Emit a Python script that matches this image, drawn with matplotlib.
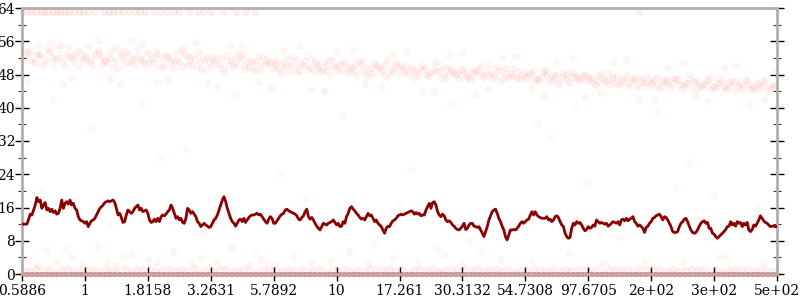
import numpy as np
import matplotlib
matplotlib.use('Agg')
import matplotlib.pyplot as plt
from matplotlib.ticker import MultipleLocator

# ---- data ----
tick_labels = ['0.5886', '1', '1.8158', '3.2631', '5.7892', '10', '17.261',
               '30.3132', '54.7308', '97.6705', '2e+02', '3e+02', '5e+02']
y_ticks = [0, 8, 16, 24, 32, 40, 48, 56, 64]

line_y = [
    12.0,12.0,12.0,12.0,13.2,14.4,14.2,15.4,16.6,18.4,17.4,17.8,15.8,16.6,17.2,15.4,15.8,15.0,15.6,14.8,
    15.2,14.4,14.6,15.8,17.8,15.8,17.0,17.4,16.8,17.8,16.6,17.0,15.8,15.4,13.8,13.0,12.8,12.6,12.2,12.6,
    11.4,12.2,12.8,13.0,13.4,14.2,15.0,15.8,16.2,16.6,17.2,17.4,17.6,17.4,17.6,17.8,17.2,15.8,14.2,14.6,
    13.6,12.4,12.6,14.2,15.4,15.0,14.6,15.0,15.8,16.2,16.6,15.4,15.8,15.0,15.2,15.4,
    14.6,13.0,12.4,12.6,13.2,12.6,13.4,12.6,13.8,14.2,14.0,14.4,15.0,15.4,16.6,15.8,14.6,13.4,13.8,13.0,
    13.4,12.4,12.2,13.4,15.8,15.4,14.6,15.0,14.4,13.8,12.6,12.2,11.4,11.8,12.2,11.8,11.5,11.2,11.4,12.2,
    13.0,13.4,14.2,15.4,16.6,17.8,18.6,17.4,15.8,14.6,13.4,12.6,12.2,11.5,12.2,13.0,13.2,12.6,13.4,12.4,
    13.0,13.6,14.0,14.2,14.2,14.4,14.6,14.2,14.4,13.8,13.2,12.6,12.2,13.2,13.8,13.4,12.2,
    12.2,12.8,13.4,14.0,14.4,14.6,15.4,15.6,15.2,15.0,14.8,14.6,14.4,14.0,13.2,13.0,13.6,14.0,15.0,15.6,
    13.8,13.2,13.6,13.0,12.2,11.5,11.0,10.6,11.4,12.2,12.0,11.8,12.2,12.4,12.6,13.0,12.4,11.8,12.2,11.4,
    11.5,12.6,12.2,13.8,14.6,15.8,16.2,15.6,15.2,14.6,14.2,13.6,13.2,13.4,13.0,13.8,14.6,14.0,14.2,13.4,
    12.6,13.0,12.2,11.8,11.4,10.6,9.8,11.0,11.5,11.4,12.2,12.8,13.0,13.4,14.0,14.2,14.4,
    14.2,14.4,14.6,14.8,15.0,15.2,15.0,14.4,14.8,14.4,14.6,14.0,14.2,14.2,15.4,16.2,17.0,15.8,17.2,17.4,
    16.6,15.0,14.2,13.8,14.4,14.0,13.0,12.6,12.8,12.4,11.8,11.5,11.0,10.7,10.6,11.0,11.5,12.2,10.7,11.0,
    11.8,12.2,12.2,11.5,11.4,11.2,11.4,10.6,9.8,9.0,10.2,11.4,13.0,14.0,15.0,15.4,15.6,14.6,13.4,12.6,
    11.5,10.6,9.0,8.2,9.4,10.6,10.6,10.7,10.6,11.0,11.5,12.2,12.6,12.2,12.6,13.0,13.2,
    14.2,15.0,14.2,15.0,14.2,13.8,13.6,13.4,13.4,13.4,13.8,13.0,13.2,12.6,13.0,13.8,14.0,13.6,12.6,11.8,
    11.4,9.8,9.0,8.6,8.8,11.0,12.2,11.8,12.6,12.2,12.4,11.8,11.0,10.4,10.7,11.4,11.0,11.2,11.8,11.5,
    13.0,12.6,12.2,12.4,12.2,12.0,12.2,11.5,11.8,12.2,12.6,12.4,12.2,12.6,11.8,13.0,13.2,12.8,13.4,12.8,
    13.2,13.4,13.8,12.6,12.2,11.5,11.8,11.4,11.0,10.0,11.2,11.5,12.2,12.6,13.4,13.6,14.0,
    14.2,14.4,13.8,13.0,13.8,13.6,13.0,12.2,11.4,10.2,10.0,10.0,10.2,11.4,12.2,12.6,13.2,13.4,12.6,11.5,
    10.6,10.0,9.8,10.0,10.6,11.5,12.2,12.6,12.8,12.2,12.4,11.0,11.0,9.8,9.6,9.0,8.6,9.0,9.4,9.8,
    10.2,10.7,11.4,11.5,12.6,11.8,12.2,11.5,12.6,12.2,12.4,11.4,12.2,11.8,12.4,10.6,10.2,10.7,11.8,11.5,
    12.2,13.0,14.0,13.4,12.8,12.4,12.2,11.8,11.4,11.5,11.5,11.4,11.4,
]

band_a = [
    52.1,53.4,51.0,52.8,54.2,50.6,52.3,53.0,51.7,49.8,
    52.6,51.2,53.8,50.9,52.0,54.5,51.4,52.9,50.3,51.8,
    53.1,50.7,51.9,52.4,49.6,51.0,52.7,50.2,53.5,51.5,
    50.1,52.2,49.4,51.6,50.8,53.0,49.9,51.2,48.7,50.5,
    51.3,49.2,50.6,52.1,48.8,50.0,51.7,49.5,50.9,47.9,
    49.8,51.2,48.4,50.3,49.1,47.6,50.8,49.4,51.6,48.9,
    48.2,50.1,49.3,47.5,49.8,48.6,51.0,47.9,49.0,48.4,
    49.2,47.1,48.6,50.0,47.8,48.3,46.5,49.5,47.7,48.9,
    46.9,48.4,47.2,49.1,46.3,47.8,48.7,45.9,47.5,48.2,
    47.6,45.8,48.3,46.7,47.2,45.4,48.0,46.4,47.3,46.0,
    45.9,47.5,46.2,44.8,46.9,45.6,47.8,46.1,44.9,46.6,
    45.2,46.8,44.6,46.1,45.5,47.0,44.3,45.8,46.4,44.9,
]
band_b = [
    53.6,51.5,52.4,50.8,53.9,52.0,51.1,54.8,52.6,51.3,
    50.8,53.2,52.3,51.0,49.9,52.8,53.7,51.5,52.2,50.6,
    51.8,52.9,50.4,51.4,53.2,50.0,52.1,51.7,49.3,52.5,
    51.4,49.6,52.6,50.3,51.9,49.0,50.7,52.4,50.2,51.1,
    49.6,50.8,48.9,51.5,50.2,49.4,51.1,48.5,50.4,49.7,
    50.5,48.7,49.9,51.0,48.2,49.6,50.2,48.0,49.3,50.7,
    49.5,47.8,48.8,50.4,48.1,49.2,47.4,49.9,48.5,47.0,
    47.9,48.8,49.4,47.3,48.1,49.7,47.0,48.4,46.8,48.0,
    48.3,46.6,47.5,48.9,47.0,46.1,48.1,47.4,46.5,47.9,
    46.3,47.9,46.9,45.6,47.7,46.2,45.1,47.0,46.6,45.3,
    46.8,45.1,46.4,47.2,45.4,46.0,44.7,46.3,45.7,44.4,
    46.0,44.7,45.3,46.5,44.2,45.6,44.8,46.2,43.9,45.1,
]
band_c = [
    51.2,54.0,52.9,50.1,53.3,51.8,55.1,52.2,50.9,53.7,
    52.4,50.0,53.1,51.6,54.2,49.5,52.5,51.1,53.9,50.7,
    50.9,53.6,49.8,52.3,51.2,54.0,50.4,52.8,51.0,49.2,
    52.0,50.5,48.6,51.8,53.1,50.0,51.5,49.3,52.3,50.9,
    50.2,48.3,51.9,49.8,50.6,52.4,48.9,50.1,49.0,51.4,
    48.9,50.6,49.3,47.9,51.4,48.6,50.0,49.1,47.4,50.4,
    50.0,48.5,47.2,49.6,48.0,50.5,48.9,46.8,49.4,48.2,
    48.5,46.7,49.1,48.0,50.2,47.5,48.8,47.2,49.6,46.9,
    47.4,49.0,46.5,48.0,47.7,45.6,47.2,48.6,46.8,47.1,
    46.9,45.5,47.4,48.5,46.0,47.0,45.9,46.8,44.9,47.6,
    46.2,44.6,47.0,45.9,46.6,45.1,46.9,44.4,45.6,47.3,
    44.7,46.3,45.9,44.0,45.7,46.6,45.0,44.5,46.9,45.4,
]
band_d = [
    52.7,50.9,53.0,51.5,52.2,54.1,50.4,52.6,53.3,51.9,
    51.5,52.8,50.5,52.9,51.3,53.4,50.8,52.0,51.4,53.3,
    52.2,49.9,52.6,50.8,51.6,52.9,51.3,49.9,52.2,51.0,
    50.8,51.9,50.4,49.7,52.0,51.1,48.9,50.6,51.5,49.6,
    51.0,49.7,50.3,48.6,51.2,49.9,50.7,49.0,51.6,50.3,
    49.2,50.1,48.8,50.7,49.7,48.3,49.5,50.5,48.6,49.8,
    48.7,49.8,48.4,49.0,47.6,48.9,49.6,48.2,47.9,49.3,
    47.5,48.2,47.9,48.9,46.9,49.0,47.6,48.2,47.4,48.5,
    47.8,47.0,48.5,46.8,47.9,47.3,46.6,48.3,47.1,46.4,
    47.2,46.5,46.1,47.5,45.7,46.8,47.4,45.5,46.2,46.9,
    45.4,46.5,45.8,46.8,44.6,45.9,46.4,45.2,46.7,45.0,
    45.9,45.1,46.4,44.9,45.4,44.5,46.0,45.3,44.7,45.6,
]

# scattered points just around the band
halo_x = [0.1,0.45,0.8,1.2,1.55,1.9,2.3,2.75,3.1,3.5,3.95,4.4,4.8,5.25,5.7,6.1,6.55,7.0,7.4,
          7.85,8.3,8.75,9.2,9.6,10.05,10.5,10.9,11.35,11.8,
          0.25,0.65,1.05,1.4,1.75,2.15,2.55,2.95,3.3,3.75,4.15,4.6,5.0,5.45,5.9,6.35,6.8,7.2,
          7.65,8.1,8.5,8.95,9.4,9.8,10.25,10.7,11.15,11.55,11.95]
halo_y = [46.5,55.8,47.2,56.3,45.8,55.4,46.9,55.9,45.3,54.7,44.8,54.9,44.1,54.0,45.0,53.6,43.7,
          53.2,44.4,52.5,42.9,52.0,43.5,51.4,42.2,50.8,41.6,50.2,42.0,
          55.2,45.6,54.8,47.0,56.0,46.1,54.3,45.9,55.1,46.3,53.8,44.6,53.5,45.7,52.9,44.0,
          52.6,43.2,51.9,44.5,51.1,42.7,50.7,41.9,49.9,43.0,49.6,40.8,48.6]

top_x = [0.0, 0.08, 0.15, 0.22, 0.3, 0.35, 0.42, 0.5, 0.56, 0.6, 0.68, 0.75, 0.82,
         0.9, 0.97, 1.05, 1.15, 1.3, 1.38, 1.45, 1.52, 1.6, 1.7, 1.8, 1.88, 1.95,
         2.1, 2.2, 2.3, 2.4, 2.5, 2.65, 2.8, 2.9, 3.0, 3.2, 3.4, 3.55, 3.7, 9.8]
top_y = [63.0] * len(top_x)

near_y = [
    1.0,0.7,1.3,0.9,1.2,0.6,1.1,1.4,0.8,1.0, 0.9,1.2,0.7,1.3,1.0,0.8,1.4,0.6,1.1,0.9,
    1.3,0.8,1.0,1.2,0.7,1.1,0.9,1.4,0.6,1.0, 0.8,1.1,1.3,0.7,1.0,1.2,0.9,0.6,1.3,1.1,
    1.0,0.7,1.2,0.9,1.4,0.8,1.0,1.1,0.6,1.3, 0.9,1.2,0.8,1.0,0.7,1.3,1.1,0.9,1.4,0.8,
    1.1,0.6,1.0,1.2,0.9,1.3,0.7,1.0,1.1,0.8, 1.2,0.9,1.4,0.7,1.0,1.1,0.8,1.3,0.6,1.0,
    0.9,1.2,1.0,0.7,1.3,0.8,1.1,0.9,1.2,1.0, 0.8,1.3,0.6,1.1,0.9,1.0,1.2,0.7,1.4,0.9,
    1.0,1.1,0.8,1.2,0.7,1.0,1.3,0.9,1.1,0.8, 1.2,0.6,1.0,1.3,0.9,1.1,0.7,1.2,1.0,0.8,
]

low_x = [0.1,0.25,0.4,0.55,0.8,0.95,1.2,1.35,1.5,1.75,2.0,2.15,2.4,2.7,2.85,3.1,3.3,3.6,3.8,
         4.0,4.3,4.6,4.9,5.2,5.5,5.9,6.3,6.7,7.0,7.6,8.1,8.7,9.2,9.9,10.5,11.1,11.8]
low_y = [3.5,2.2,5.8,2.8,4.1,2.4,6.5,3.0,2.1,4.8,3.3,2.6,5.2,2.3,3.9,2.9,6.2,2.5,3.6,
         2.2,4.4,2.7,3.1,5.5,2.4,3.8,2.6,4.9,2.3,3.4,2.8,5.1,2.5,3.2,2.9,4.0,2.6]

sparse_x = [0.3,0.7,1.1,1.6,2.2,2.9,3.4,3.9,4.5,5.1,5.6,6.2,6.8,7.3,7.9,8.4,9.0,9.5,10.1,10.6,
            11.2,11.7,0.5,1.4,2.6,3.7,4.8,6.0,7.1,8.2,9.3,10.4,11.5,1.9,4.1,6.6,8.8,11.0]
sparse_y = [20,6,35,4,28,10,43,3,18,38,7,25,41,5,14,33,22,9,39,27,
            4,16,42,12,30,5,44,17,8,36,3,21,11,41,24,6,40,19]

# ---- plot ----
plt.rcParams['font.family'] = ['DejaVu Serif']
fig = plt.figure(figsize=(8, 3), dpi=100)
ax = fig.add_axes([22/800, 1-274/300, 755/800, 266/300])

pt_color = '#ff2a2a'
sc_kw = dict(s=22, color=pt_color, linewidths=0.5, clip_on=False, zorder=2)
for k, band in enumerate([band_a, band_c, band_b, band_d]):
    bx = np.arange(len(band)) * 0.1 + 0.025 * k
    ax.scatter(bx, band, alpha=0.045, **sc_kw)
ax.scatter(halo_x, halo_y, alpha=0.045, **sc_kw)
ax.scatter(top_x, top_y, alpha=0.07, **sc_kw)
near_x = np.arange(len(near_y)) * 0.1 + 0.03
ax.scatter(near_x, near_y, alpha=0.07, **sc_kw)
ax.scatter(low_x, low_y, alpha=0.045, **sc_kw)
ax.scatter(sparse_x, sparse_y, alpha=0.03, **sc_kw)
zero_x = np.arange(0, 12.001, 0.02)
zero_y = [0.0] * len(zero_x)
ax.scatter(zero_x, zero_y, alpha=0.45, s=10, color='#e82828', linewidths=0,
           clip_on=False, zorder=2)

line_x = np.linspace(0, 12, len(line_y))
ax.plot(line_x, line_y, color='#8b0000', lw=2.0, zorder=3)

ax.set_xlim(0, 12)
ax.set_ylim(0, 64)
ax.set_xticks(np.arange(len(tick_labels)))
ax.set_xticklabels(tick_labels)
ax.set_yticks(y_ticks)
ax.yaxis.set_minor_locator(MultipleLocator(4))

for side in ['left', 'right', 'top', 'bottom']:
    ax.spines[side].set_color('#b0b0b0')
    ax.spines[side].set_linewidth(2)

ax.yaxis.set_ticks_position('both')
ax.tick_params(axis='y', which='major', direction='inout', length=10, width=1,
               color='black', labelsize=10, pad=0, labelright=False)
ax.tick_params(axis='y', which='minor', direction='inout', length=6, width=0.8,
               color='#333333')
ax.tick_params(axis='x', which='major', direction='inout', length=10, width=1,
               color='black', labelsize=10, pad=2)

fig.savefig('out.png', dpi=100, facecolor='white')
